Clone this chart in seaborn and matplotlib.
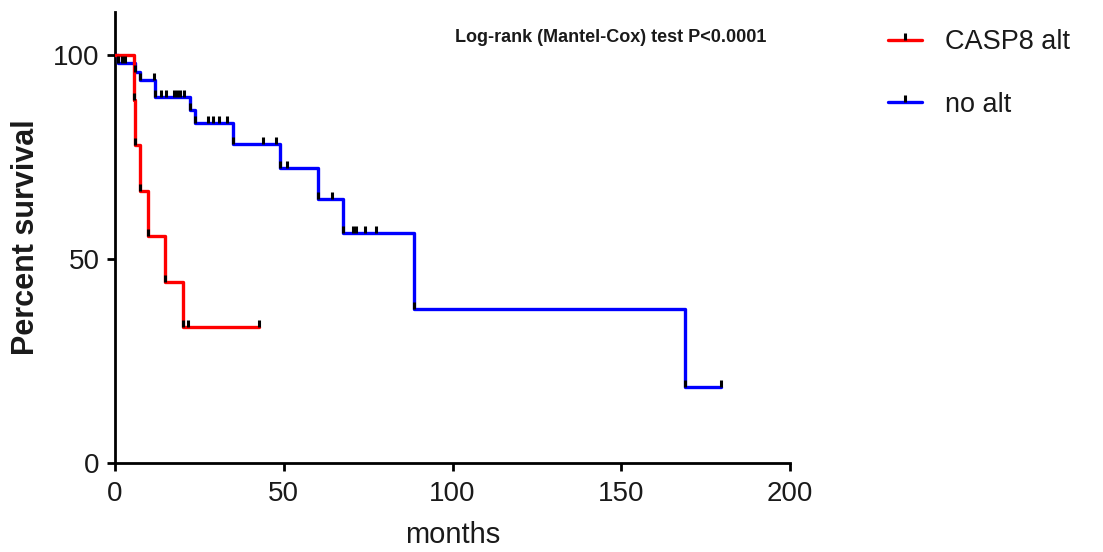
import numpy as np
import pandas as pd
import matplotlib
matplotlib.use("Agg")
import matplotlib.pyplot as plt
from matplotlib.path import Path
from matplotlib.lines import Line2D
import seaborn as sns

# ---- data ----
groups = ["CASP8 alt", "no alt"]
casp8_times = [0, 5.6, 5.9, 7.4, 9.9, 14.8, 20.2]
casp8_surv = [100, 88.9, 77.8, 66.7, 55.6, 44.4, 33.3]
casp8_end = 42.8
casp8_censor = [21.7, 42.8]

noalt_times = [0, 1.0, 5.9, 7.4, 11.9, 22.2, 23.7, 35.0, 48.9, 60.2, 67.6, 88.6, 168.9]
noalt_surv = [100, 98.0, 95.9, 93.9, 89.6, 86.6, 83.4, 78.1, 72.2, 64.8, 56.3, 37.7, 18.7]
noalt_end = 179.6
noalt_censor = [2.0, 3.1, 11.5, 13.7, 15.1, 17.4, 18.4, 19.3, 20.4,
                27.6, 29.0, 30.8, 33.1, 43.9, 47.7, 50.9, 64.4,
                70.6, 71.3, 74.1, 77.2, 179.6]

x_ticks = [0, 50, 100, 150, 200]
y_ticks = [0, 50, 100]
annotation = "Log-rank (Mantel-Cox) test P<0.0001"
colors = {"CASP8 alt": "#FF0000", "no alt": "#0000FF"}

curves = {
    "CASP8 alt": (casp8_times, casp8_surv, casp8_end, casp8_censor),
    "no alt": (noalt_times, noalt_surv, noalt_end, noalt_censor),
}

rows = []
for g, (t, s, end, _) in curves.items():
    for ti, si in zip(t, s):
        rows.append((g, ti, si))
    rows.append((g, end, s[-1]))
df = pd.DataFrame(rows, columns=["group", "months", "surv"])

sns.set_style("ticks")
plt.rcParams["font.family"] = ["Liberation Sans", "DejaVu Sans"]

fig = plt.figure(figsize=(11.03, 5.52), dpi=100)
ax = fig.add_axes([115 / 1103, 1 - 463 / 552, (790 - 115) / 1103, (463 - 12) / 552])

sns.lineplot(data=df, x="months", y="surv", hue="group",
             hue_order=["no alt", "CASP8 alt"], palette=colors,
             estimator=None, sort=False, drawstyle="steps-post",
             linewidth=2.4, legend=False, ax=ax, zorder=3)

tick_marker = Path([(0, 0), (0, 1)], [Path.MOVETO, Path.LINETO])
for g in ["no alt", "CASP8 alt"]:
    t, s, end, cens = curves[g]
    pts = sorted(set(list(t[1:]) + list(cens)))
    t_arr = np.array(t)
    vals = [s[np.searchsorted(t_arr, p, side="right") - 1] for p in pts]
    ax.plot(pts, vals, ls="none", marker=tick_marker, ms=10, mew=2.2,
            mec="black", mfc="black", zorder=5, clip_on=False)

ax.set_xlim(0, 200)
ax.set_ylim(0, 110.5)
ax.set_xticks(x_ticks)
ax.set_yticks(y_ticks)
ax.tick_params(axis="both", labelsize=20, width=2, length=6, color="black",
               labelcolor="#1a1a1a")
ax.tick_params(axis="x", pad=7)
ax.tick_params(axis="y", pad=5)
for side in ["left", "bottom"]:
    ax.spines[side].set_linewidth(2)
    ax.spines[side].set_color("black")
sns.despine(ax=ax)

ax.set_xlabel("months", fontsize=21, labelpad=10, color="#1a1a1a")
ax.set_ylabel("Percent survival", fontsize=22, fontweight="bold",
              labelpad=9, color="#1a1a1a")

ax.text(0.735, 0.943, annotation, transform=ax.transAxes, ha="center",
        va="center", fontsize=13, fontweight="bold", color="#1a1a1a")

handles = [Line2D([0], [0], color=colors[g], lw=2.4, marker=tick_marker,
                  ms=10, mew=2.2, mec="black") for g in groups]
fig.legend(handles, groups, loc="upper left",
           bbox_to_anchor=(888 / 1103, 1 - 29 / 552), frameon=False,
           fontsize=19.5, handlelength=1.25, handletextpad=0.85,
           labelspacing=1.35, borderpad=0, borderaxespad=0, numpoints=1,
           labelcolor="#1a1a1a")

fig.savefig("out.png", dpi=100)
